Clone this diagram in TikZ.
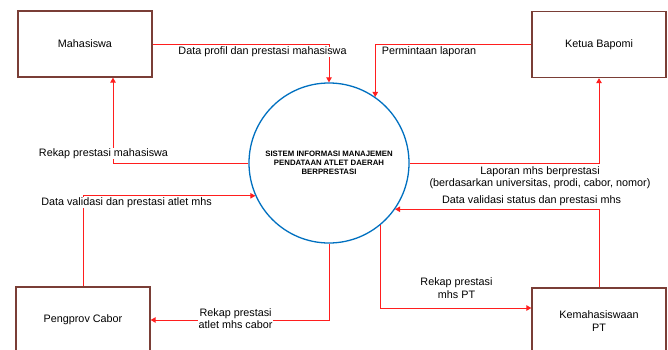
\documentclass[tikz,border=0pt]{standalone}
\usepackage{fontspec}
\setmainfont{Liberation Sans}
\usetikzlibrary{arrows.meta}
\definecolor{kotak}{RGB}{122,62,54}
\definecolor{biru}{RGB}{0,112,192}
\definecolor{merah}{RGB}{255,30,30}
\begin{document}
\begin{tikzpicture}[>={Triangle[length=5pt,width=5.5pt]},x=1pt,y=-1pt,
	entitas/.style={draw=kotak,line width=1.3pt,minimum width=134pt,minimum height=66pt,inner sep=0pt,align=center,font=\fontsize{10.8}{13}\selectfont},
	proses/.style={circle,draw=biru,line width=1.3pt,minimum size=160pt,inner sep=0pt,align=center,font=\bfseries\fontsize{7.8}{9.2}\selectfont},
	alur/.style={draw=merah,line width=0.9pt,->},
	ket/.style={fill=white,inner sep=0.3pt,align=center,font=\fontsize{10.8}{12.5}\selectfont}]
	\useasboundingbox (0,0) rectangle (668,350);
	\clip (0,0) rectangle (668,350);
	% entitas luar dan proses
	\node[entitas] (mhs) at (85,44) {Mahasiswa};
	\node[entitas] (bapomi) at (599,44.5) {Ketua Bapomi};
	\node[entitas] (cabor) at (83,320) {Pengprov Cabor};
	\node[entitas] (kemhs) at (599,321) {Kemahasiswaan\\PT};
	\node[proses] (sim) at (329,163) {SISTEM INFORMASI MANAJEMEN\\PENDATAAN ATLET DAERAH\\BERPRESTASI};
	% aliran data
	\draw[alur] (mhs.east) -| (sim.north);
	\draw[alur] (sim.west) -| ([xshift=28pt]mhs.south);
	\draw[alur] (bapomi.west) -| (sim.55);
	\draw[alur] (sim.east) -| (bapomi.south);
	\draw[alur] (cabor.north) |- (sim.204);
	\draw[alur] (sim.south) |- (cabor.east);
	\draw[alur] (kemhs.north) |- (sim.-35);
	\draw[alur] (sim.-50) |- ([yshift=13pt]kemhs.west);
	% keterangan
	\node[ket] (profil) at (262.5,52) {Data profil dan prestasi mahasiswa};
	\node[ket] (rekapmhs) at (103.5,153.7) {Rekap prestasi mahasiswa};
	\node[ket] (minta) at (429,51.7) {Permintaan laporan};
	\node[ket] (laporan) at (540,177.5) {Laporan mhs berprestasi\\(berdasarkan universitas, prodi, cabor, nomor)};
	\node[ket] (valcabor) at (126.5,202.3) {Data validasi dan prestasi atlet mhs};
	\node[ket] (rekapcabor) at (235.6,318.7) {Rekap prestasi\\atlet mhs cabor};
	\node[ket] (valpt) at (531.5,201) {Data validasi status dan prestasi mhs};
	\node[ket] (rekappt) at (456.5,288.3) {Rekap prestasi\\mhs PT};
\end{tikzpicture}
\end{document}
